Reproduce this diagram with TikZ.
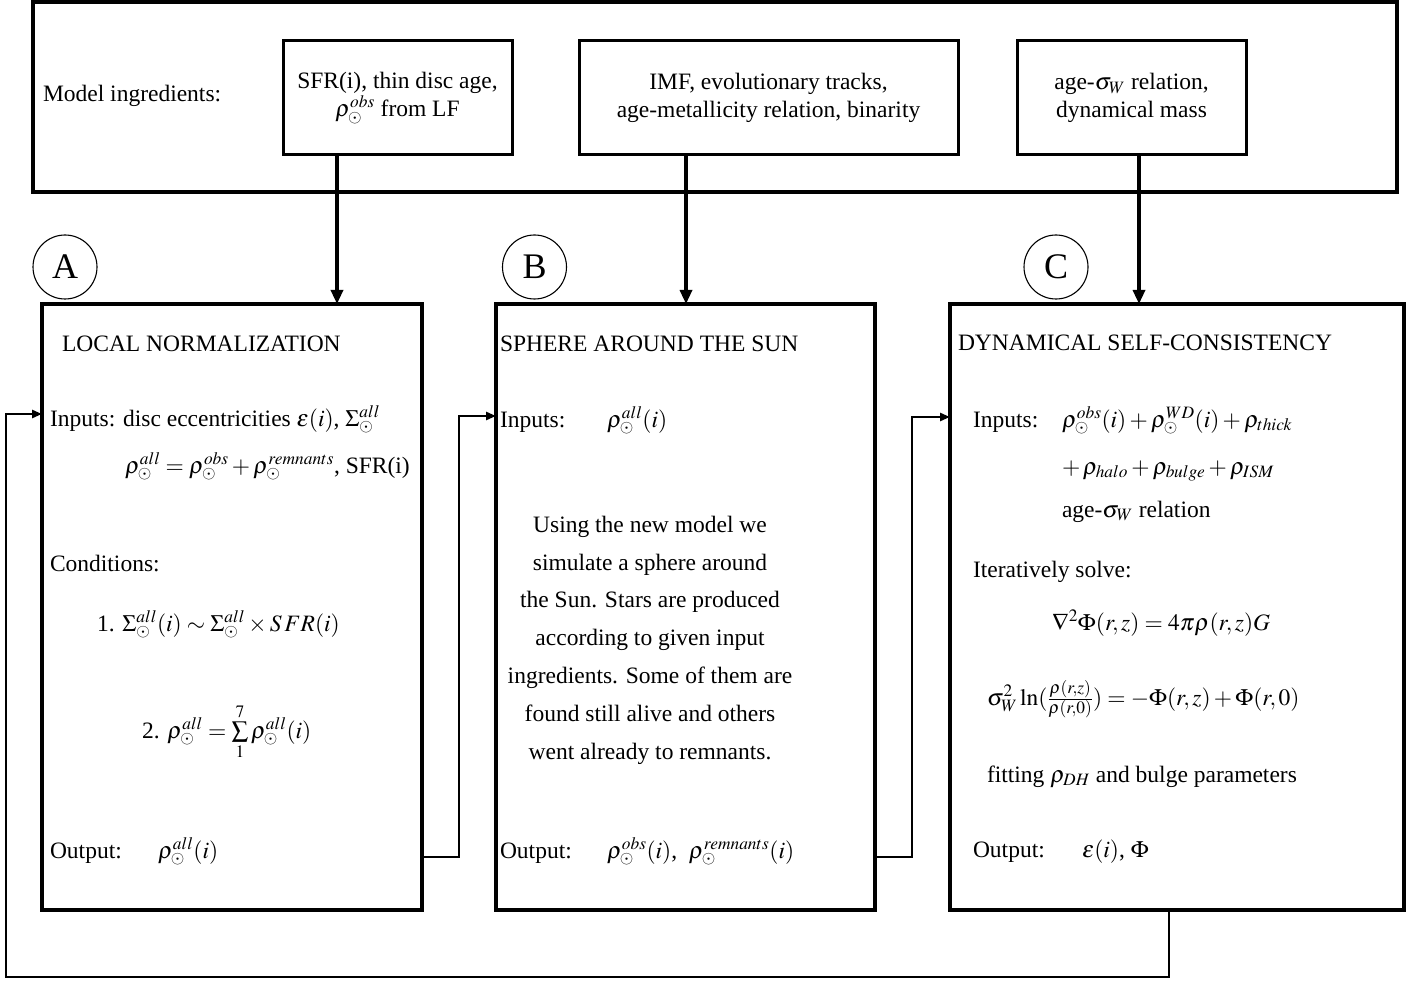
\documentclass[tikz,border=0pt]{standalone}
\usepackage{mathptmx}
\usepackage[no-math]{fontspec}
\setmainfont{Liberation Serif}
\usetikzlibrary{arrows.meta}
\begin{document}
\begin{tikzpicture}[x={(1pt,0pt)},y={(0pt,-1pt)},
  font=\fontsize{23.5}{27.5}\selectfont,
  bigbox/.style={draw, line width=3.6pt, rectangle, inner sep=0pt, outer sep=0pt, anchor=north west},
  ingbox/.style={draw, line width=3.0pt, rectangle, inner sep=0pt, outer sep=0pt, align=center},
  stagebox/.style={draw, line width=3.3pt, rectangle, inner sep=0pt, outer sep=0pt, anchor=north west},
  circlab/.style={draw, circle, line width=1.1pt, minimum size=64pt, inner sep=0pt, font=\fontsize{36}{40}\selectfont},
  txt/.style={anchor=base west, inner sep=0pt, outer sep=0pt},
  toparrow/.style={line width=3.2pt, -{Triangle[length=14pt,width=12pt]}},
  arrowin/.style={line width=2.6pt, -{Triangle[length=10pt,width=8pt]}}
]
\useasboundingbox (0,0) rectangle (1418,981);

% ingredients frame
\node[bigbox, minimum width=1364pt, minimum height=190pt] (top) at (33,2) {};
\node[txt] (ming) at (43,102) {Model ingredients:};
\node[ingbox, minimum width=229pt, minimum height=114pt] (i1) at (397.5,98) {SFR(i), thin disc age,\\ $\rho^{obs}_\odot$ from LF};
\node[ingbox, minimum width=379pt, minimum height=114pt] (i2) at (768.5,98) {IMF, evolutionary tracks,\\ age-metallicity relation, binarity};
\node[ingbox, minimum width=229pt, minimum height=114pt] (i3) at (1131.5,98) {age-$\sigma_W$ relation,\\ dynamical mass};

% stage boxes
\node[stagebox, minimum width=380pt, minimum height=606pt] (bA) at (42,304) {};
\node[stagebox, minimum width=379pt, minimum height=606pt] (bB) at (496,304) {};
\node[stagebox, minimum width=454pt, minimum height=606pt] (bC) at (950,304) {};

\node[circlab] (cA) at (65,267) {A};
\node[circlab] (cB) at (534.5,267) {B};
\node[circlab] (cC) at (1056,267) {C};

% arrows from ingredients
\draw[toparrow] ([xshift=54pt]i1.south west) -- ([xshift=54pt]i1.south west |- bA.north);
\draw[toparrow] ([xshift=107pt]i2.south west) -- ([xshift=107pt]i2.south west |- bB.north);
\draw[toparrow] ([xshift=122pt]i3.south west) -- ([xshift=122pt]i3.south west |- bC.north);

% feedback connectors
\draw[arrowin] (bA.east |- 0,857) -- (459,857) -- (459,416) -- (bB.west |- 0,416);
\draw[arrowin] (bB.east |- 0,857) -- (912,857) -- (912,417) -- (bC.west |- 0,417);
\draw[arrowin] (bC.south -| 1169,0) -- (1169,977) -- (6,977) -- (6,414) -- (bA.west |- 0,414);

% box A text
\node[txt] (aT) at (62,352) {LOCAL NORMALIZATION};
\node[txt] (aIn) at (50,426) {Inputs: disc eccentricities $\epsilon(i)$, $\Sigma^{all}_\odot$};
\node[txt] (aIn2) at (125,473) {$\rho^{all}_\odot = \rho^{obs}_\odot + \rho^{remnants}_\odot$, SFR(i)};
\node[txt] (aCond) at (50,571) {Conditions:};
\node[txt] (aC1) at (97,631) {1. $\Sigma^{all}_\odot(i) \sim \Sigma^{all}_\odot \times S\,FR(i)$};
\node[txt] (aC2) at (142,738) {2. $\rho^{all}_\odot = \sum\limits_1^7 \rho^{all}_\odot(i)$};
\node[txt] (aOut) at (50,858) {Output:};
\node[txt] (aOutV) at (158,858) {$\rho^{all}_\odot(i)$};

% box B text
\node[txt] (bT) at (500,352) {SPHERE AROUND THE SUN};
\node[txt] (bIn) at (500,427) {Inputs:};
\node[txt] (bInV) at (607,427) {$\rho^{all}_\odot(i)$};
\node[anchor=base, inner sep=0pt, align=center, font=\fontsize{23.5}{37.8}\selectfont] (bPar) at (650,759)
  {Using the new model we\\ simulate a sphere around\\ the Sun. Stars are produced\\ according to given input\\ ingredients. Some of them are\\ found still alive and others\\ went already to remnants.};
\node[txt] (bOut) at (500,858) {Output:};
\node[txt] (bOutV) at (607,858) {$\rho^{obs}_\odot(i)$,\enspace $\rho^{remnants}_\odot(i)$};

% box C text
\node[txt] (cT) at (958,351) {DYNAMICAL SELF-CONSISTENCY};
\node[txt] (cIn) at (973,427) {Inputs:};
\node[txt] (cIn1) at (1062,427) {$\rho^{obs}_\odot(i) + \rho^{WD}_\odot(i) + \rho_{thick}$};
\node[txt] (cIn2) at (1062,474) {$+\,\rho_{halo} + \rho_{bulge} + \rho_{I S M}$};
\node[txt] (cIn3) at (1062,517) {age-$\sigma_W$ relation};
\node[txt] (cIt) at (973,577) {Iteratively solve:};
\node[txt] (cEq1) at (1052,630) {$\nabla^2\Phi(r,z) = 4\pi\rho(r,z)G$};
\node[txt] (cEq2) at (987,705) {$\sigma_W^2\ln(\frac{\rho(r,z)}{\rho(r,0)}) = -\Phi(r,z) + \Phi(r,0)$};
\node[txt] (cFit) at (987,782) {fitting $\rho_{DH}$ and bulge parameters};
\node[txt] (cOut) at (973,857) {Output:};
\node[txt] (cOutV) at (1082,857) {$\epsilon(i)$, $\Phi$};
\end{tikzpicture}
\end{document}
